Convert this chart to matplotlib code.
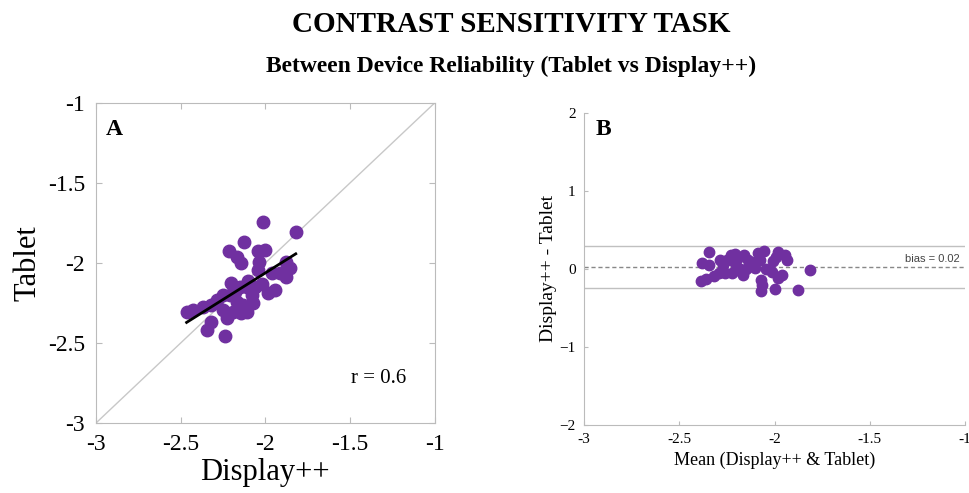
import numpy as np
import matplotlib
matplotlib.use("Agg")
import matplotlib.pyplot as plt

# contrast thresholds (log units)
display = [-2.013, -1.820, -2.127, -2.214, -2.170, -2.145, -2.043, -2.003, -2.037, -2.043,
           -1.875, -1.855, -1.875, -2.200, -2.150, -1.983, -1.944, -2.062, -2.081, -2.249,
           -2.209, -2.170, -2.131, -2.072, -2.426, -2.367, -2.318, -2.249, -2.190, -2.141,
           -2.111, -2.465, -2.229, -2.318, -2.347, -2.239, -1.915, -2.111, -2.288, -2.100,
           -2.020, -2.180, -1.960]
tablet = [-1.742, -1.804, -1.867, -1.925, -1.960, -2.002, -1.925, -1.919, -1.992, -2.044,
          -1.992, -2.033, -2.086, -2.127, -2.148, -2.189, -2.169, -2.148, -2.200, -2.200,
          -2.200, -2.242, -2.263, -2.252, -2.294, -2.273, -2.263, -2.294, -2.304, -2.315,
          -2.304, -2.304, -2.346, -2.371, -2.419, -2.454, -2.065, -2.148, -2.231, -2.110,
          -2.130, -2.180, -2.060]
r_value = 0.6
bias = 0.02
loa = [0.29, -0.25]

purple = '#7030A0'
plt.rcParams['font.family'] = ['Liberation Serif', 'DejaVu Serif']

display = np.array(display)
tablet = np.array(tablet)

fig = plt.figure(figsize=(9.7, 4.93), dpi=100)
fig.text(0.527, 0.951, "CONTRAST SENSITIVITY TASK", ha='center', va='center',
         fontsize=21, fontweight='bold')
fig.text(0.527, 0.866, "Between Device Reliability (Tablet vs Display++)", ha='center',
         va='center', fontsize=17, fontweight='bold')

# panel A - scatter with identity and fit line
ax1 = fig.add_axes([0.099, 0.142, 0.349, 0.649])
ax1.plot([-3, -1], [-3, -1], color='#c8c8c8', lw=1, zorder=1)
ax1.plot(display, tablet, 'o', color=purple, ms=9, zorder=2)
p = np.polyfit(display, tablet, 1)
xs = np.array([display.min(), display.max()])
ax1.plot(xs, np.polyval(p, xs), color='black', lw=2, zorder=3)
ax1.set_xlim(-3, -1)
ax1.set_ylim(-3, -1)
ax1.set_xticks([-3, -2.5, -2, -1.5, -1])
ax1.set_yticks([-3, -2.5, -2, -1.5, -1])
ax1.set_xticklabels(['-3', '-2.5', '-2', '-1.5', '-1'])
ax1.set_yticklabels(['-3', '-2.5', '-2', '-1.5', '-1'])
ax1.tick_params(direction='in', top=True, right=True, labelsize=17, length=4,
                color='#bbbbbb', pad=8)
for s in ax1.spines.values():
    s.set_color('#bbbbbb')
ax1.set_xlabel('Display++', fontsize=22, labelpad=2)
ax1.set_ylabel('Tablet', fontsize=22, labelpad=4)
ax1.text(0.03, 0.95, 'A', transform=ax1.transAxes, fontsize=17, fontweight='bold',
         va='top', ha='left')
ax1.text(-1.33, -2.72, 'r = %.1f' % r_value, fontsize=15, ha='center', va='center')

# panel B - Bland-Altman
mean_vals = (display + tablet) / 2
diff_vals = display - tablet
ax2 = fig.add_axes([0.602, 0.138, 0.393, 0.633])
ax2.axhline(loa[0], color='#c0c0c0', lw=1, zorder=1)
ax2.axhline(loa[1], color='#c0c0c0', lw=1, zorder=1)
ax2.axhline(bias, color='#888888', lw=1, ls=(0, (3, 2)), zorder=1)
ax2.plot(mean_vals, diff_vals, 'o', color=purple, ms=7.5, zorder=2)
ax2.set_xlim(-3, -1)
ax2.set_ylim(-2, 2)
ax2.set_xticks([-3, -2.5, -2, -1.5, -1])
ax2.set_xticklabels(['-3', '-2.5', '-2', '-1.5', '-1'])
ax2.set_yticks([-2, -1, 0, 1, 2])
ax2.tick_params(direction='in', labelsize=11, length=3, color='#bbbbbb', pad=6)
for side in ['top', 'right']:
    ax2.spines[side].set_visible(False)
for side in ['left', 'bottom']:
    ax2.spines[side].set_color('#bbbbbb')
ax2.set_xlabel('Mean (Display++ & Tablet)', fontsize=13)
ax2.set_ylabel('Display++ - Tablet', fontsize=14, labelpad=2)
ax2.text(0.03, 0.98, 'B', transform=ax2.transAxes, fontsize=17, fontweight='bold',
         va='top', ha='left')
ax2.text(-1.03, bias + 0.04, 'bias = %.2f' % bias, fontsize=8, ha='right', va='bottom',
         family=['Liberation Sans', 'DejaVu Sans'], color='#444444')

fig.savefig('out.png', dpi=100)
